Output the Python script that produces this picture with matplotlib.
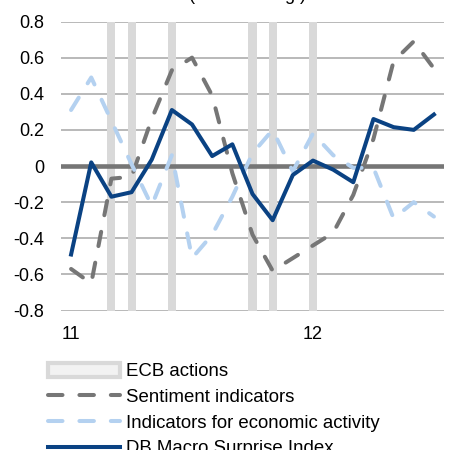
import numpy as np
import matplotlib
matplotlib.use('Agg')
import matplotlib.pyplot as plt
from matplotlib.patches import Patch
from matplotlib.lines import Line2D
from matplotlib.ticker import FuncFormatter

# monthly data, Jan 2011 - Jul 2012
macro_surprise = [-0.49, 0.02, -0.17, -0.145, 0.035, 0.31, 0.23, 0.055, 0.12, -0.155,
                  -0.30, -0.05, 0.03, -0.02, -0.09, 0.26, 0.215, 0.20, 0.285]
sentiment = [-0.57, -0.65, -0.07, -0.06, 0.26, 0.53, 0.60, 0.39, -0.04, -0.38,
             -0.58, -0.51, -0.44, -0.37, -0.16, 0.15, 0.58, 0.69, 0.54]
activity = [0.31, 0.49, 0.25, 0.01, -0.22, 0.06, -0.51, -0.38, -0.17, 0.07,
            0.20, -0.03, 0.18, 0.06, -0.01, -0.01, -0.29, -0.20, -0.28]
ecb_actions = [0, 0, 1, 1, 0, 1, 0, 0, 0, 1, 1, 0, 1, 0, 0, 0, 0, 0, 0]
year_ticks = [0, 12]
year_labels = ['11', '12']

labels = ['ECB actions', 'Sentiment indicators',
          'Indicators for economic activity', 'DB Macro Surprise Index']

plt.rcParams['font.family'] = 'Liberation Sans'
plt.rcParams['axes.unicode_minus'] = False

c_ecb = '#d9d9d9'
c_sent = '#767676'
c_act = '#b4d1f0'
c_db = '#0a4283'
fs = 13

fig = plt.figure(figsize=(4.51, 4.5), dpi=100)
ax = fig.add_axes([61 / 451, 1 - 310.5 / 450, 383 / 451, 289 / 450])

x = np.arange(len(macro_surprise))
ecb_x = x[np.array(ecb_actions) == 1]
ax.bar(ecb_x, 1.6, bottom=-0.8, width=0.4, color=c_ecb, zorder=2)

ax.axhline(0, color='#767676', lw=3.3, zorder=3)

ax.plot(x, sentiment, color=c_sent, lw=2.9, dashes=(3.6, 4.2),
        dash_capstyle='round', zorder=4)
ax.plot(x, activity, color=c_act, lw=2.9, dashes=(3.6, 4.2),
        dash_capstyle='round', zorder=5)
ax.plot(x, macro_surprise, color=c_db, lw=2.9, zorder=6)

ax.set_xlim(-0.5, len(x) - 0.5)
ax.set_ylim(-0.8, 0.8)
ax.set_yticks(np.arange(-0.8, 0.81, 0.2))
ax.yaxis.set_major_formatter(FuncFormatter(lambda v, p: '0' if abs(v) < 1e-9 else f'{v:.1f}'))
ax.set_xticks(year_ticks)
ax.set_xticklabels(year_labels)
ax.grid(axis='y', color='#a6a6a6', lw=1.1, zorder=0)
ax.set_axisbelow(True)
for s in ax.spines.values():
    s.set_visible(False)
ax.tick_params(axis='both', length=0, labelsize=fs)
ax.tick_params(axis='y', pad=12)
ax.tick_params(axis='x', pad=11)

# title is mostly cut off at the top edge
fig.text(247 / 451, 1 - 0.5 / 450, '(3-month avg.)', ha='center', va='baseline', fontsize=fs)

handles = [
    Patch(facecolor='#f2f2f2', edgecolor=c_ecb, lw=3),
    Line2D([], [], color=c_sent, lw=2.9, dashes=(3.6, 4.2), dash_capstyle='round'),
    Line2D([], [], color=c_act, lw=2.9, dashes=(3.6, 4.2), dash_capstyle='round'),
    Line2D([], [], color=c_db, lw=2.9),
]
fig.legend(handles, labels, loc='upper left', bbox_to_anchor=(48 / 451, 1 - 363 / 450),
           frameon=False, fontsize=13.4, handlelength=3.85, handleheight=0.75,
           handletextpad=0.32, labelspacing=0.45, borderpad=0, borderaxespad=0)

fig.savefig('out.png', dpi=100)
